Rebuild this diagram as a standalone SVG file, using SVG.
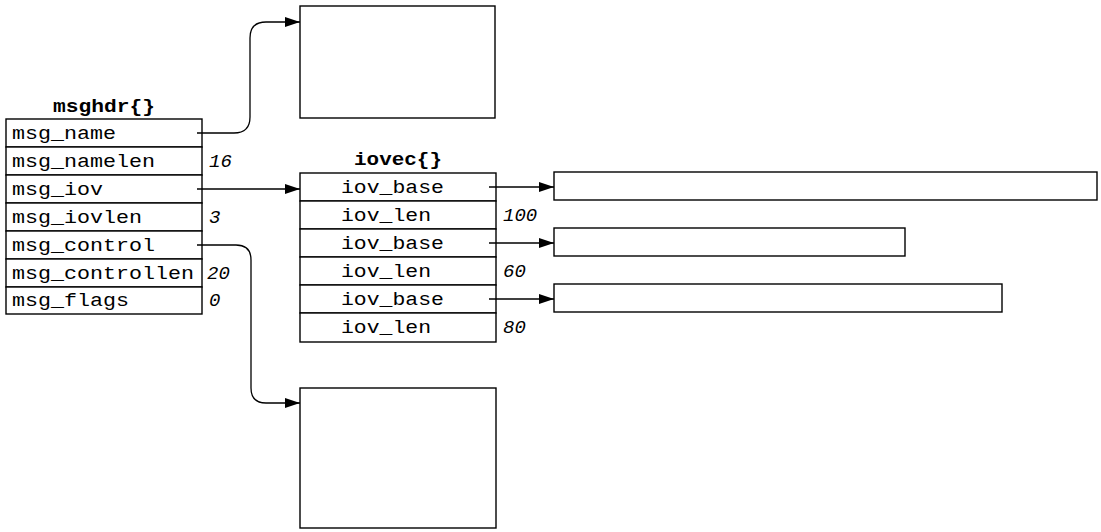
<svg xmlns="http://www.w3.org/2000/svg" width="1101" height="532" viewBox="0 0 1101 532">
<style>
.box{fill:#fff;stroke:#000;stroke-width:1.4}
.t{font-family:"Liberation Mono","DejaVu Sans Mono",monospace;font-size:19px;fill:#000}
.v{font-family:"Liberation Mono","DejaVu Sans Mono",monospace;font-size:19px;font-style:italic;fill:#000}
.h{font-family:"Liberation Mono","DejaVu Sans Mono",monospace;font-size:19px;font-weight:bold;fill:#000}
.c{fill:none;stroke:#000;stroke-width:1.3}
</style>
<defs>
<marker id="ah" markerUnits="userSpaceOnUse" markerWidth="16" markerHeight="12" refX="15" refY="6" orient="auto">
<path d="M0,1 L15,6 L0,11 Z" fill="#000"/>
</marker>
</defs>
<rect width="1101" height="532" fill="#fff"/>
<g id="msghdr">
<text class="h" x="104" y="112" text-anchor="middle" textLength="102" lengthAdjust="spacingAndGlyphs">msghdr{}</text>
<rect class="box" x="6" y="119" width="196" height="28"/>
<rect class="box" x="6" y="147" width="196" height="28"/>
<rect class="box" x="6" y="175" width="196" height="28"/>
<rect class="box" x="6" y="203" width="196" height="28"/>
<rect class="box" x="6" y="231" width="196" height="28"/>
<rect class="box" x="6" y="259" width="196" height="28"/>
<rect class="box" x="6" y="287" width="196" height="27"/>
<text class="t" x="12" y="139" textLength="104" lengthAdjust="spacingAndGlyphs">msg_name</text>
<text class="t" x="12" y="167" textLength="143" lengthAdjust="spacingAndGlyphs">msg_namelen</text>
<text class="t" x="12" y="195" textLength="91" lengthAdjust="spacingAndGlyphs">msg_iov</text>
<text class="t" x="12" y="223" textLength="130" lengthAdjust="spacingAndGlyphs">msg_iovlen</text>
<text class="t" x="12" y="251" textLength="143" lengthAdjust="spacingAndGlyphs">msg_control</text>
<text class="t" x="12" y="279" textLength="182" lengthAdjust="spacingAndGlyphs">msg_controllen</text>
<text class="t" x="12" y="306" textLength="117" lengthAdjust="spacingAndGlyphs">msg_flags</text>
<text class="v" x="209" y="167">16</text>
<text class="v" x="209" y="223">3</text>
<text class="v" x="207" y="279">20</text>
<text class="v" x="209" y="306">0</text>
</g>
<g id="iovec">
<text class="h" x="398" y="165" text-anchor="middle" textLength="88" lengthAdjust="spacingAndGlyphs">iovec{}</text>
<rect class="box" x="300" y="173" width="196" height="28"/>
<rect class="box" x="300" y="201" width="196" height="28"/>
<rect class="box" x="300" y="229" width="196" height="28"/>
<rect class="box" x="300" y="257" width="196" height="28"/>
<rect class="box" x="300" y="285" width="196" height="28"/>
<rect class="box" x="300" y="313" width="196" height="29"/>
<text class="t" x="341" y="193" textLength="103" lengthAdjust="spacingAndGlyphs">iov_base</text>
<text class="t" x="341" y="221" textLength="90" lengthAdjust="spacingAndGlyphs">iov_len</text>
<text class="t" x="341" y="249" textLength="103" lengthAdjust="spacingAndGlyphs">iov_base</text>
<text class="t" x="341" y="277" textLength="90" lengthAdjust="spacingAndGlyphs">iov_len</text>
<text class="t" x="341" y="305" textLength="103" lengthAdjust="spacingAndGlyphs">iov_base</text>
<text class="t" x="341" y="333" textLength="90" lengthAdjust="spacingAndGlyphs">iov_len</text>
<text class="v" x="503" y="221">100</text>
<text class="v" x="503" y="277">60</text>
<text class="v" x="503" y="333">80</text>
</g>
<g id="name-buffer"><rect class="box" x="300" y="6" width="195" height="112"/></g>
<g id="control-buffer"><rect class="box" x="300" y="388" width="196" height="140"/></g>
<g id="buf1"><rect class="box" x="554" y="172" width="543" height="28"/></g>
<g id="buf2"><rect class="box" x="554" y="228" width="351" height="28"/></g>
<g id="buf3"><rect class="box" x="554" y="284" width="448" height="28"/></g>
<g id="connectors">
<path class="c" d="M197,133 H234 Q250,133 250,117 V38 Q250,22 266,22 H300" marker-end="url(#ah)"/>
<path class="c" d="M197,189 H300" marker-end="url(#ah)"/>
<path class="c" d="M197,245 H236 Q251,245 251,260 V388 Q251,403 266,403 H300" marker-end="url(#ah)"/>
<path class="c" d="M489,187 H554" marker-end="url(#ah)"/>
<path class="c" d="M489,243 H554" marker-end="url(#ah)"/>
<path class="c" d="M489,299 H554" marker-end="url(#ah)"/>
</g>
</svg>
